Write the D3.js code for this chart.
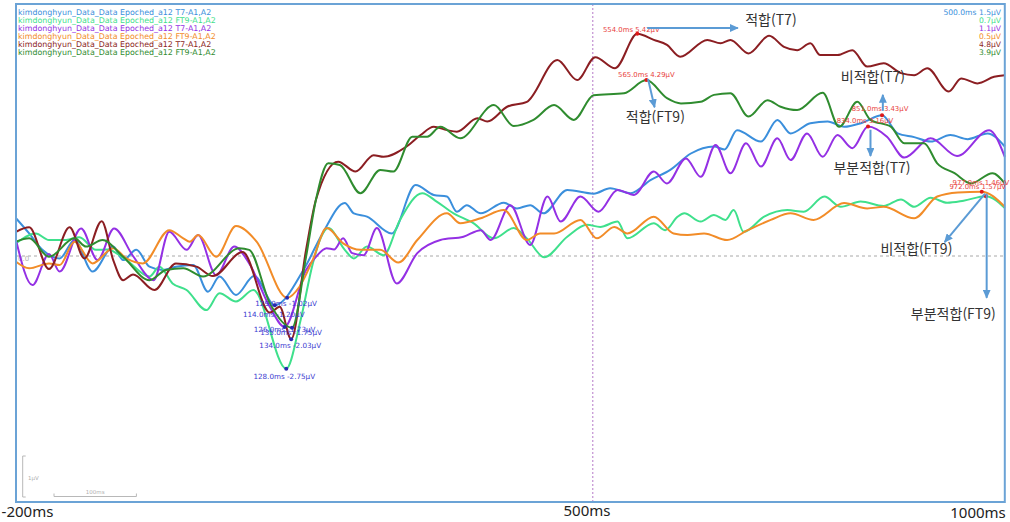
<!DOCTYPE html>
<html lang="ko">
<head>
<meta charset="UTF-8">
<title>ERP 파형 비교</title>
<script src="https://d3js.org/d3.v7.min.js"></script>
<style>
  body { margin: 0; background: #fff; }
  svg { display: block; }
</style>
</head>
<body>
<div id="chart"></div>
<script>
// legend names and colours, in the order they are listed
const seriesNames = [
  "kimdonghyun_Data_Data Epoched_a12 T7-A1,A2",
  "kimdonghyun_Data_Data Epoched_a12 FT9-A1,A2",
  "kimdonghyun_Data_Data Epoched_a12 T7-A1,A2",
  "kimdonghyun_Data_Data Epoched_a12 FT9-A1,A2",
  "kimdonghyun_Data_Data Epoched_a12 T7-A1,A2",
  "kimdonghyun_Data_Data Epoched_a12 FT9-A1,A2"
];
const seriesColors = ["#3b8fdc", "#3fe08c", "#9430e4", "#f28c28", "#8b1e22", "#2f8c2f"];

// value shown for each series at the 500 ms cursor
const cursorTime = 500;
const cursorValues = [1.5, 0.7, 1.1, 0.5, 4.8, 3.9];

// [ms, µV] (extrema)
const blueT7 = [[-200,0.92],[-184,0.55],[-168,0.15],[-147,-0.06],[-129,0.39],[-107,-0.38],[-82,0.23],[-70,-0.10],[-54,0.15],[-38,-0.26],[-22,-0.34],[-6,-0.26],[15,-0.22],[33,-0.87],[47,-0.50],[67,-0.95],[89,-0.49],[114,-1.20],[150,-0.30],[172,0.55],[199,1.29],[210,1.04],[226,0.96],[256,0.55],[285,1.73],[307,1.49],[323,1.45],[335,1.08],[347,1.24],[364,1.04],[392,1.30],[408,1.16],[424,1.24],[440,1.04],[469,1.61],[501,1.52],[521,1.65],[546,1.53],[570,1.85],[594,2.10],[619,2.50],[647,2.67],[660,2.60],[675,3.07],[704,2.79],[724,3.32],[740,2.99],[764,3.24],[785,3.28],[805,3.15],[827,3.25],[851,3.43],[870,2.99],[890,2.90],[910,2.79],[934,2.95],[955,2.85],[979,2.99],[1000,2.67]];
const mintFT9 = [[-200,0.31],[-176,0.55],[-160,0.39],[-139,0.39],[-123,0.46],[-103,0.15],[-89,0.16],[-66,-0.10],[-38,-0.50],[-26,-0.26],[-10,-0.67],[7,-0.83],[31,-1.32],[47,-0.91],[67,-1.11],[88,-0.83],[128,-2.75],[145,-1.60],[160,-0.20],[170,0.45],[179,0.68],[199,0.15],[210,-0.06],[226,0.23],[246,0.02],[266,0.88],[293,1.53],[311,1.32],[331,1.04],[355,0.80],[380,0.43],[404,0.68],[420,0.43],[441,-0.03],[469,0.47],[493,0.76],[509,0.71],[530,0.84],[542,0.43],[574,0.80],[588,0.63],[603,0.96],[611,1.04],[631,0.84],[647,1.00],[661,0.88],[671,1.12],[683,0.59],[708,0.96],[736,1.12],[756,1.08],[781,1.45],[801,1.20],[825,1.33],[853,1.22],[874,1.38],[890,1.20],[910,1.42],[930,1.30],[950,1.35],[977,1.46],[1000,1.17]];
const purpleT7 = [[-200,0.39],[-180,-0.71],[-160,0.05],[-147,-0.38],[-121,0.67],[-101,-0.10],[-81,0.67],[-58,0.00],[-33,-0.59],[-14,0.59],[7,0.15],[21,0.51],[43,-0.47],[65,0.23],[83,-0.18],[108,-1.24],[126,-1.73],[152,-0.34],[164,-0.02],[177,0.19],[186,0.16],[197,0.43],[208,0.07],[222,0.02],[238,0.68],[262,-0.67],[287,0.07],[315,0.39],[343,0.47],[364,0.63],[376,0.39],[400,1.24],[424,0.27],[445,1.45],[461,0.84],[485,1.45],[507,1.08],[530,1.61],[550,1.49],[574,2.06],[590,1.77],[613,2.38],[631,1.93],[649,2.71],[667,2.02],[686,2.75],[704,2.18],[724,2.87],[740,2.34],[760,2.99],[779,2.42],[797,2.95],[815,2.63],[834,3.16],[857,2.91],[878,2.40],[910,2.87],[942,2.44],[981,3.07],[1000,2.42]];
const orangeFT9 = [[-200,-0.14],[-184,-0.30],[-160,-0.18],[-147,-0.22],[-129,0.35],[-107,-0.18],[-82,0.19],[-66,-0.06],[-46,-0.18],[-14,0.63],[3,0.43],[11,0.35],[21,0.51],[43,-0.02],[67,0.73],[92,0.35],[129,-1.02],[144,-0.75],[160,-0.10],[177,0.68],[197,0.31],[218,0.15],[242,0.15],[264,-0.16],[287,0.39],[323,1.04],[339,0.80],[364,0.92],[392,1.12],[420,0.39],[436,0.55],[453,0.55],[485,0.88],[505,0.43],[526,0.71],[542,0.55],[574,0.96],[598,0.55],[615,0.51],[635,0.55],[663,0.39],[688,0.63],[716,0.88],[740,1.04],[768,0.88],[805,1.29],[833,1.16],[853,1.20],[890,0.92],[918,1.45],[943,1.55],[972,1.57],[1000,1.20]];
const maroonT7 = [[-200,0.59],[-184,0.70],[-160,-0.32],[-135,0.70],[-117,-0.06],[-96,0.85],[-82,-0.10],[-70,-0.59],[-58,-0.45],[-32,-0.83],[-6,-0.18],[19,-0.26],[39,-0.49],[75,0.10],[108,-1.38],[120,-1.24],[134,-2.03],[152,0.15],[164,1.37],[191,2.30],[212,2.06],[234,2.46],[246,2.42],[274,2.67],[291,2.95],[307,3.15],[323,3.07],[335,3.03],[360,3.36],[372,3.28],[396,3.64],[420,3.76],[457,4.78],[481,4.29],[503,4.85],[527,4.58],[554,5.42],[574,5.27],[590,5.15],[606,4.86],[639,5.27],[655,5.19],[667,5.27],[689,4.94],[714,5.37],[732,5.10],[748,5.02],[764,5.19],[776,4.90],[797,4.90],[815,5.02],[833,4.62],[853,4.70],[874,4.46],[890,4.41],[906,4.58],[932,4.01],[947,4.33],[967,4.21],[987,4.37],[1000,4.41]];
const greenFT9 = [[-200,0.35],[-184,0.43],[-160,-0.02],[-129,0.43],[-115,0.23],[-95,0.39],[-70,-0.02],[-38,-0.59],[-18,-0.34],[3,-0.30],[27,-0.50],[71,0.19],[83,0.15],[108,-1.15],[135,-1.75],[152,-0.02],[164,1.37],[179,2.26],[193,2.22],[218,1.53],[242,2.10],[258,2.06],[281,2.91],[299,2.91],[315,3.15],[339,2.87],[380,3.68],[404,3.17],[428,3.32],[453,3.68],[477,3.32],[501,3.92],[538,3.97],[565,4.29],[590,3.85],[607,3.72],[631,3.76],[647,3.93],[667,3.97],[689,3.40],[712,3.80],[728,3.64],[748,3.56],[779,3.98],[799,3.15],[821,3.76],[837,3.32],[862,3.15],[878,2.75],[902,2.75],[918,2.26],[939,2.02],[959,1.77],[985,2.02],[1000,1.77]];

const seriesData = [blueT7, mintFT9, purpleT7, orangeFT9, maroonT7, greenFT9];

// marked points: [series index, ms]
const peakMarks = [[4, 554], [5, 565], [0, 851], [2, 834], [1, 977], [3, 972]];
const troughMarks = [[3, 129], [0, 114], [2, 126], [5, 135], [4, 134], [1, 128]];

// hand-written notes: text, text anchor [ms, µV], arrow from/to [ms, µV]
const notes = [
  { text: "적합(T7)",     at: [685, 5.63],  from: [566, 5.56], to: [676, 5.56] },
  { text: "적합(FT9)",    at: [540, 3.27],  from: [567, 4.32], to: [575, 3.63] },
  { text: "비적합(T7)",   at: [801, 4.24],  from: [852, 3.54], to: [852, 3.93] },
  { text: "부분적합(T7)", at: [792, 2.02],  from: [837, 3.08], to: [837, 2.44] },
  { text: "비적합(FT9)",  at: [849, 0.05],  from: [976, 1.52], to: [927, 0.34] },
  { text: "부분적합(FT9)", at: [886, -1.54], from: [978, 1.52], to: [978, -1.02] }
];

const xTicks = [-200, 500, 1000];

// ---------------------------------------------------------------
const W = 1010, H = 522;
const plotL = 16, plotR = 1004.8, plotT = 4, plotB = 502;

const x = d3.scaleLinear().domain([-200, 1000]).range([plotL, plotR]);
const y = d3.scaleLinear().domain([-6, 6]).range([502, 10]);

const svg = d3.select("#chart").append("svg")
  .attr("width", W).attr("height", H);

const defs = svg.append("defs");
defs.append("marker")
  .attr("id", "arr")
  .attr("markerUnits", "userSpaceOnUse")
  .attr("markerWidth", 9).attr("markerHeight", 8)
  .attr("refX", 8).attr("refY", 4)
  .attr("orient", "auto")
  .append("path").attr("d", "M0,0 L9,4 L0,8 z").attr("fill", "#5b9bd5");

// zero line
svg.append("line")
  .attr("x1", plotL).attr("x2", plotR)
  .attr("y1", y(0)).attr("y2", y(0))
  .attr("stroke", "#a8a8a8").attr("stroke-dasharray", "3,3");

svg.append("text")
  .attr("x", 18).attr("y", y(0) + 5)
  .attr("font-family", "DejaVu Sans").attr("font-size", 7)
  .attr("fill", "#b0b0b0").text("0.0");

// cursor line
svg.append("line")
  .attr("x1", x(cursorTime)).attr("x2", x(cursorTime))
  .attr("y1", plotT).attr("y2", plotB)
  .attr("stroke", "#b678c8").attr("stroke-width", 1)
  .attr("stroke-dasharray", "2,2");

// waveforms
const line = d3.line()
  .x(d => x(d[0]))
  .y(d => y(d[1]))
  .curve(d3.curveMonotoneX);

svg.selectAll(".wave")
  .data(seriesData)
  .join("path")
  .attr("class", "wave")
  .attr("fill", "none")
  .attr("stroke", (d, i) => seriesColors[i])
  .attr("stroke-width", 2)
  .attr("stroke-linejoin", "round")
  .attr("d", line);

// frame
svg.append("rect")
  .attr("x", plotL).attr("y", plotT)
  .attr("width", plotR - plotL).attr("height", plotB - plotT)
  .attr("fill", "none").attr("stroke", "#6ba3d6").attr("stroke-width", 2);

// legend (left)
svg.selectAll(".leg")
  .data(seriesNames)
  .join("text")
  .attr("class", "leg")
  .attr("x", 18)
  .attr("y", (d, i) => 15 + i * 7.9)
  .attr("font-family", "DejaVu Sans")
  .attr("font-size", 7.9)
  .attr("fill", (d, i) => seriesColors[i])
  .text(d => d);

// cursor values (right)
svg.selectAll(".cur")
  .data(cursorValues)
  .join("text")
  .attr("class", "cur")
  .attr("x", 1001)
  .attr("y", (d, i) => 15 + i * 7.9)
  .attr("text-anchor", "end")
  .attr("font-family", "DejaVu Sans")
  .attr("font-size", 7.6)
  .attr("fill", (d, i) => seriesColors[i])
  .text((d, i) => (i === 0 ? cursorTime.toFixed(1) + "ms " : "") + d.toFixed(1) + "µV");

// marked points
const lookup = (s, t) => seriesData[s].find(p => p[0] === t);
const peakOffset = { 554: [-6, -2], 565: [0, -3], 851: [-2, -4], 834: [-3, -3], 977: [-5, -11], 972: [-4, -3] };
const troughOffset = { 129: [-1, 8.5], 114: [-1, 12], 126: [0, 5.5], 135: [-1, 7.5], 134: [-1, 8.5], 128: [-2, 10] };

const fmt = (t, v) => `${t.toFixed(1)}ms ${v.toFixed(2)}µV`;

peakMarks.forEach(([s, t]) => {
  const p = lookup(s, t);
  const o = peakOffset[t];
  svg.append("text")
    .attr("x", x(p[0]) + o[0]).attr("y", y(p[1]) + o[1])
    .attr("text-anchor", "middle")
    .attr("font-family", "DejaVu Sans").attr("font-size", 6.9)
    .attr("fill", "#e8413c").text(fmt(p[0], p[1]));
  svg.append("circle")
    .attr("cx", x(p[0])).attr("cy", y(p[1])).attr("r", 2)
    .attr("fill", "#e01818");
});

troughMarks.forEach(([s, t]) => {
  const p = lookup(s, t);
  const o = troughOffset[t];
  svg.append("circle")
    .attr("cx", x(p[0])).attr("cy", y(p[1])).attr("r", 2)
    .attr("fill", "#2828b0");
  svg.append("text")
    .attr("x", x(p[0]) + o[0]).attr("y", y(p[1]) + o[1])
    .attr("text-anchor", "middle")
    .attr("font-family", "DejaVu Sans").attr("font-size", 7.2)
    .attr("fill", "#3a3ad0").text(fmt(p[0], p[1]));
});

// notes with arrows
notes.forEach(n => {
  svg.append("line")
    .attr("x1", x(n.from[0])).attr("y1", y(n.from[1]))
    .attr("x2", x(n.to[0])).attr("y2", y(n.to[1]))
    .attr("stroke", "#5b9bd5").attr("stroke-width", 2)
    .attr("marker-end", "url(#arr)");
  svg.append("text")
    .attr("x", x(n.at[0])).attr("y", y(n.at[1]))
    .attr("font-family", "'Noto Sans CJK KR', 'Noto Sans', sans-serif")
    .attr("font-size", 14)
    .attr("fill", "#333")
    .text(n.text);
});

// scale bars
const sb = svg.append("g").attr("stroke", "#b8b8b8").attr("fill", "none");
const vx = 22.7, vy = 456;
sb.append("path").attr("d",
  `M${vx + 3},${vy} H${vx} V${vy + (y(0) - y(1))} H${vx + 3}`);
const hx = 54, hy = 496.5;
sb.append("path").attr("d",
  `M${hx},${hy - 3} V${hy} H${hx + x(-100) - x(-200)} V${hy - 3}`);
svg.append("text").attr("x", 28).attr("y", 480)
  .attr("font-family", "DejaVu Sans").attr("font-size", 5.5)
  .attr("fill", "#b0b0b0").text("1µV");
svg.append("text").attr("x", hx + (x(-100) - x(-200)) / 2).attr("y", 493.5)
  .attr("text-anchor", "middle")
  .attr("font-family", "DejaVu Sans").attr("font-size", 5.5)
  .attr("fill", "#b0b0b0").text("100ms");

// time labels
const tickPos = { "-200": [27.5, 517], "500": [587, 516], "1000": [978, 517.5] };
svg.selectAll(".tick")
  .data(xTicks)
  .join("text")
  .attr("class", "tick")
  .attr("x", d => tickPos[d][0])
  .attr("y", d => tickPos[d][1])
  .attr("text-anchor", "middle")
  .attr("font-family", "'Noto Sans', sans-serif")
  .attr("font-size", 15)
  .attr("fill", "#222")
  .text(d => d + "ms");
</script>
</body>
</html>
